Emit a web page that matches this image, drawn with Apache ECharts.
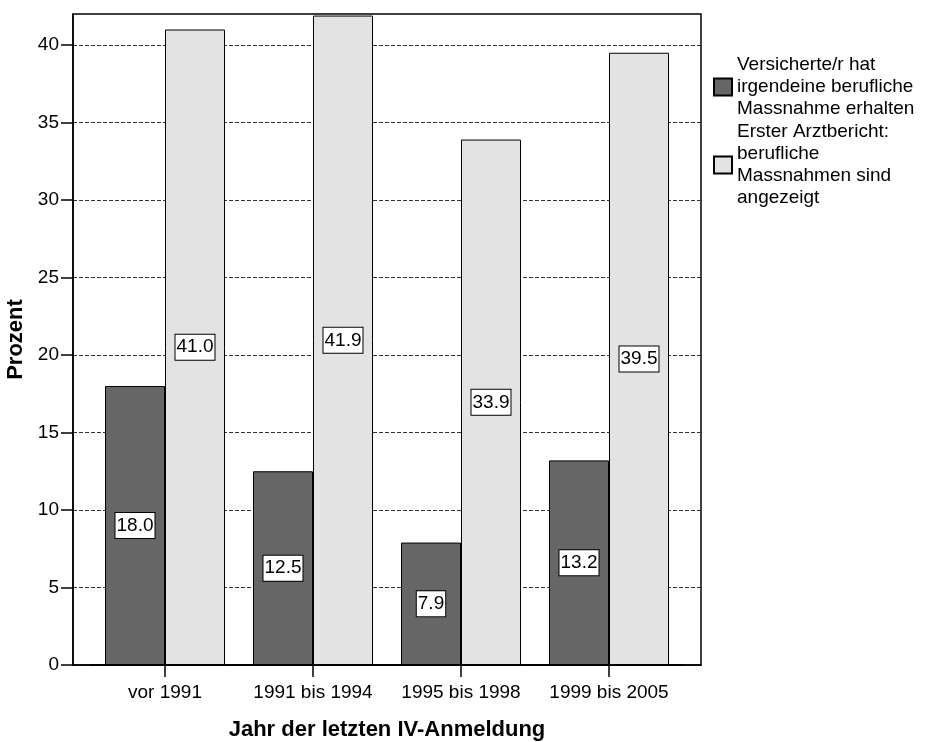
<!doctype html>
<html>
    <head>
        <meta charset="utf-8">
        <title>Berufliche Massnahmen nach Anmeldejahr</title>
        <style>
            html, body { margin: 0; padding: 0; background: #fff; }
            #main { width: 926px; height: 742px; }
        </style>
    </head>
    <body>
        <div id="main"></div>
        <script src="https://cdn.jsdelivr.net/npm/echarts@6/dist/echarts.min.js"></script>
        <script>
            var categories = ['vor 1991', '1991 bis 1994', '1995 bis 1998', '1999 bis 2005'];
            var seriesNames = [
                'Versicherte/r hat\nirgendeine berufliche\nMassnahme erhalten',
                'Erster Arztbericht:\nberufliche\nMassnahmen sind\nangezeigt'
            ];
            var massnahmeErhalten = [18.0, 12.5, 7.9, 13.2];
            var massnahmenAngezeigt = [41.0, 41.9, 33.9, 39.5];
            var yTicks = [0, 5, 10, 15, 20, 25, 30, 35, 40];

            var font = 'Liberation Sans, Arial, sans-serif';
            var chart = echarts.init(document.getElementById('main'));

            var barLabel = {
                show: true,
                position: 'inside',
                formatter: function (p) { return p.value.toFixed(1); },
                color: '#000',
                fontFamily: font,
                fontSize: 19,
                lineHeight: 22,
                backgroundColor: '#fff',
                borderColor: '#000',
                borderWidth: 1,
                padding: [2, 1, 1, 1]
            };

            chart.setOption({
                animation: false,
                textStyle: { fontFamily: font },
                // grid 0 holds the bars (inner band), grid 1 is the framed plot area
                grid: [
                    { left: 91, right: 243, top: 14, bottom: 77, outerBoundsMode: 'none', containLabel: false },
                    {
                        left: 73, right: 225, top: 14, bottom: 77,
                        outerBoundsMode: 'none', containLabel: false,
                        show: true, borderColor: '#000', borderWidth: 1.5, backgroundColor: 'transparent'
                    }
                ],
                legend: {
                    orient: 'vertical',
                    left: 713,
                    top: 54,
                    padding: 0,
                    itemWidth: 18,
                    itemHeight: 17,
                    itemGap: 1,
                    icon: 'rect',
                    textStyle: {
                        fontFamily: font,
                        fontSize: 19,
                        lineHeight: 22,
                        color: '#000'
                    },
                    data: seriesNames
                },
                xAxis: [
                    {
                        gridIndex: 0,
                        type: 'category',
                        data: categories,
                        name: 'Jahr der letzten IV-Anmeldung',
                        nameLocation: 'middle',
                        nameGap: 54,
                        nameTextStyle: { fontFamily: font, fontSize: 22, fontWeight: 'bold', color: '#000' },
                        axisLine: { show: true, lineStyle: { color: '#000', width: 1.5 } },
                        axisTick: { show: true, alignWithLabel: true, length: 12, lineStyle: { color: '#000', width: 1.5 } },
                        axisLabel: { interval: 0, fontFamily: font, fontSize: 19, color: '#000', margin: 18 }
                    },
                    {
                        gridIndex: 1,
                        type: 'value',
                        min: 0,
                        max: 1,
                        axisLine: { show: true, lineStyle: { color: '#000', width: 1.5 } },
                        axisTick: { show: false },
                        axisLabel: { show: false },
                        splitLine: { show: false }
                    }
                ],
                yAxis: [
                    {
                        gridIndex: 0,
                        type: 'value',
                        min: 0,
                        max: 42,
                        show: false
                    },
                    {
                        gridIndex: 1,
                        type: 'value',
                        min: 0,
                        max: 42,
                        interval: 5,
                        name: 'Prozent',
                        nameLocation: 'middle',
                        nameRotate: 90,
                        nameGap: 42,
                        nameTextStyle: { fontFamily: font, fontSize: 22, fontWeight: 'bold', color: '#000' },
                        axisLine: { show: true, lineStyle: { color: '#000', width: 1.5 } },
                        axisTick: { show: true, length: 12, customValues: yTicks, lineStyle: { color: '#000', width: 1.5 } },
                        axisLabel: { fontFamily: font, fontSize: 19, color: '#000', margin: 14, customValues: yTicks },
                        splitLine: { show: true, lineStyle: { color: '#333', width: 1, type: [4, 2] } }
                    }
                ],
                series: [
                    {
                        name: seriesNames[0],
                        type: 'bar',
                        xAxisIndex: 0,
                        yAxisIndex: 0,
                        data: massnahmeErhalten,
                        barWidth: 60,
                        barGap: '0%',
                        itemStyle: { color: '#666666', borderColor: '#000', borderWidth: 1 },
                        label: barLabel
                    },
                    {
                        name: seriesNames[1],
                        type: 'bar',
                        xAxisIndex: 0,
                        yAxisIndex: 0,
                        data: massnahmenAngezeigt,
                        barWidth: 60,
                        barGap: '0%',
                        itemStyle: { color: '#e3e3e3', borderColor: '#000', borderWidth: 1 },
                        label: barLabel
                    }
                ]
            });

            window.onresize = chart.resize;
        </script>
    </body>
</html>
